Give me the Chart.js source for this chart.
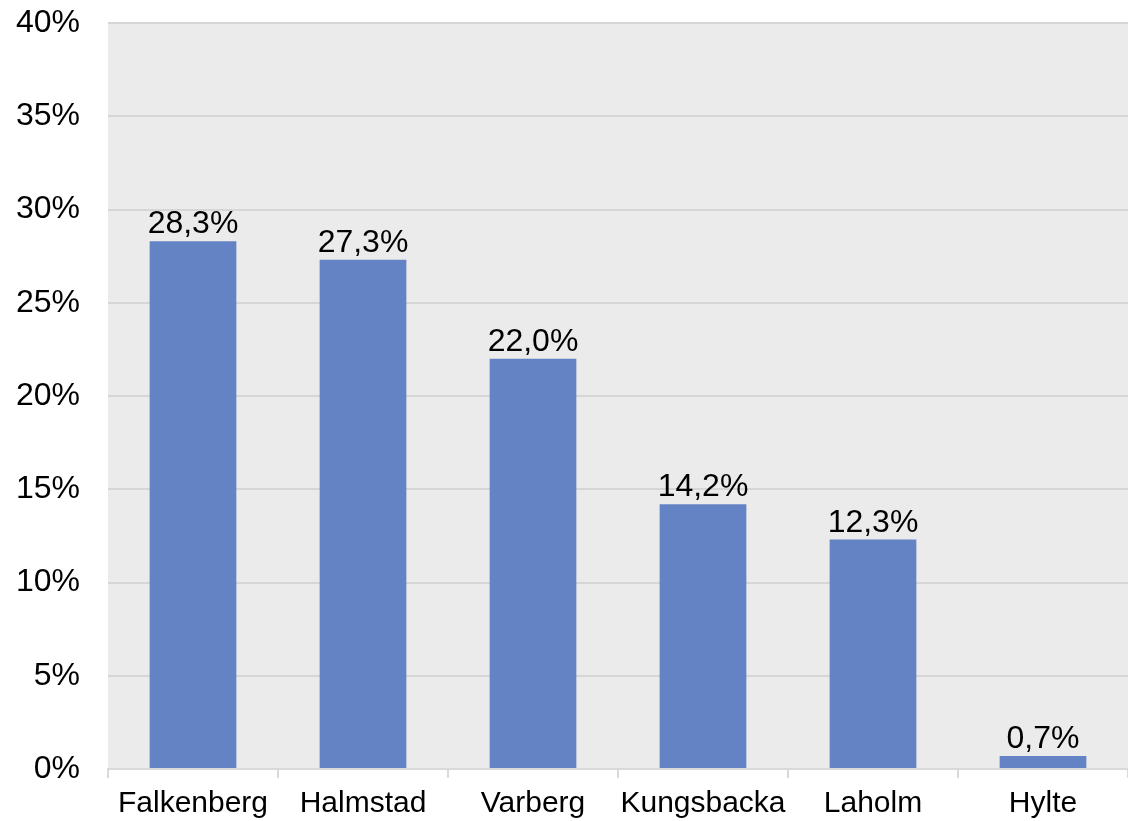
<!DOCTYPE html>
<html>
<head>
<meta charset="utf-8">
<script src="https://cdn.jsdelivr.net/npm/chart.js@4"></script>
<style>
html,body{margin:0;padding:0;background:#fff;}
#wrap{width:1128px;height:821px;position:relative;}
</style>
</head>
<body>
<div id="wrap"><canvas id="c" width="1128" height="821"></canvas></div>
<script>
const categories = ["Falkenberg", "Halmstad", "Varberg", "Kungsbacka", "Laholm", "Hylte"];
const values = [28.3, 27.3, 22.0, 14.2, 12.3, 0.7];
const yTicks = [0, 5, 10, 15, 20, 25, 30, 35, 40];

const FONT = "'Liberation Sans', Arial, sans-serif";

const bgPlugin = {
  id: 'bg',
  beforeDraw(chart) {
    const {ctx, chartArea: a} = chart;
    ctx.save();
    ctx.fillStyle = '#ebebeb';
    ctx.fillRect(a.left, a.top, a.right - a.left, a.bottom - a.top);
    ctx.restore();
  }
};

const labelPlugin = {
  id: 'vlabels',
  afterDatasetsDraw(chart) {
    const {ctx} = chart;
    const meta = chart.getDatasetMeta(0);
    ctx.save();
    ctx.font = '32px ' + FONT;
    ctx.fillStyle = '#000';
    ctx.textAlign = 'center';
    ctx.textBaseline = 'alphabetic';
    meta.data.forEach((bar, i) => {
      const txt = values[i].toFixed(1).replace('.', ',') + '%';
      ctx.fillText(txt, bar.x, bar.y - 8);
    });
    ctx.restore();
  }
};

new Chart(document.getElementById('c'), {
  type: 'bar',
  data: {
    labels: categories,
    datasets: [{
      data: values,
      backgroundColor: '#6483c5',
      borderWidth: 0,
      categoryPercentage: 1.0,
      barPercentage: 0.51
    }]
  },
  options: {
    responsive: false,
    animation: false,
    devicePixelRatio: 1,
    layout: {padding: {top: 23, right: 0, left: 0, bottom: 0}},
    plugins: {legend: {display: false}, tooltip: {enabled: false}},
    scales: {
      x: {
        grid: {offset: true, drawOnChartArea: false, drawTicks: true, tickLength: 9, color: '#d9d9d9', lineWidth: 2},
        border: {display: true, color: '#d9d9d9', width: 2},
        ticks: {color: '#000', font: {size: 30, family: FONT}, padding: 8, maxRotation: 0, autoSkip: false},
        afterFit(s) { s.height = 52; }
      },
      y: {
        min: 0, max: 40,
        afterBuildTicks(s) { s.ticks = yTicks.map(v => ({value: v})); },
        grid: {color: '#d6d6d6', lineWidth: 2, drawTicks: true, tickLength: 28, tickColor: 'rgba(0,0,0,0)'},
        border: {display: false},
        ticks: {color: '#000', font: {size: 32, family: FONT}, padding: 0,
          callback: v => v + '%'},
        afterFit(s) { s.width = 108; }
      }
    }
  },
  plugins: [bgPlugin, labelPlugin]
});
</script>
</body>
</html>
